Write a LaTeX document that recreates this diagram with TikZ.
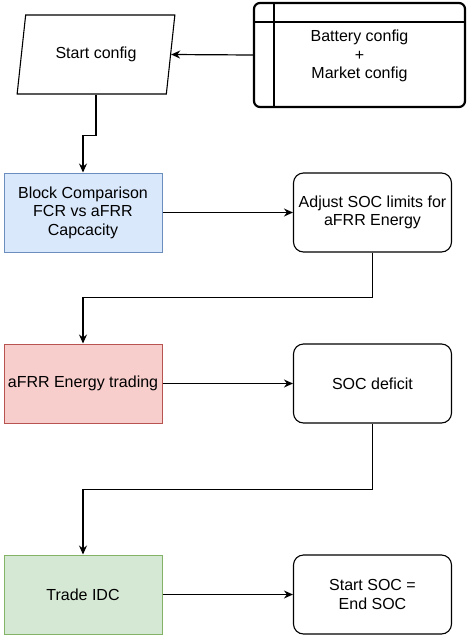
\documentclass[tikz,border=0pt]{standalone}
\usepackage{fontspec}
\setmainfont{Liberation Sans}
\usetikzlibrary{shapes.geometric,arrows.meta}
\definecolor{bfill}{HTML}{DAE8FC}\definecolor{bdraw}{HTML}{6C8EBF}
\definecolor{rfill}{HTML}{F8CECC}\definecolor{rdraw}{HTML}{B85450}
\definecolor{gfill}{HTML}{D5E8D4}\definecolor{gdraw}{HTML}{82B366}
\begin{document}
\begin{tikzpicture}[x=1pt,y=1pt,
  every node/.style={font=\fontsize{16}{18.6}\selectfont, align=center, inner sep=0pt},
  box/.style={rectangle, minimum width=158pt, minimum height=79pt, line width=1pt},
  rbox/.style={box, draw=black, rounded corners=10pt, line width=1.1pt},
  arr/.style={line width=1.2pt, -{Stealth[length=9pt,width=8pt]}}]
\useasboundingbox (0,0) rectangle (470,-638);
\node[trapezium, trapezium left angle=71.8, trapezium right angle=108.2, trapezium stretches=true,
      minimum width=158pt, minimum height=79pt, draw=black, line width=1.1pt] (sc) at (96,-54.5) {Start config};
\node[rectangle, draw=black, line width=2.2pt, rounded corners=6pt, minimum width=211pt, minimum height=104pt] (bat) at (359.5,-55) {};
\draw[line width=2.2pt] (274,-3) -- (274,-107);
\draw[line width=2.2pt] (254,-22) -- (465,-22);
\node (battxt) at (359.5,-56) {Battery config\\+\\Market config};
\node[box, fill=bfill, draw=bdraw] (blk) at (83,-212.5) {Block Comparison\\FCR vs aFRR\\Capcacity};
\node[rbox] (adj) at (372.5,-212.5) {Adjust SOC limits for\\aFRR Energy};
\node[box, fill=rfill, draw=rdraw] (afrr) at (83,-383.5) {aFRR Energy trading};
\node[rbox] (socd) at (372.5,-383.5) {SOC deficit};
\node[box, fill=gfill, draw=gdraw] (idc) at (83,-594.5) {Trade IDC};
\node[rbox] (ssoc) at (372.5,-594.5) {Start SOC =\\End SOC};
\draw[arr] (bat.west) -- (sc.east);
\draw[arr] (sc.south) -- ++(0,-41) -| (blk.north);
\draw[arr] (blk.east) -- (adj.west);
\draw[arr] (adj.south) -- ++(0,-45) -| (afrr.north);
\draw[arr] (afrr.east) -- (socd.west);
\draw[arr] (socd.south) -- ++(0,-66) -| (idc.north);
\draw[arr] (idc.east) -- (ssoc.west);
\end{tikzpicture}
\end{document}
